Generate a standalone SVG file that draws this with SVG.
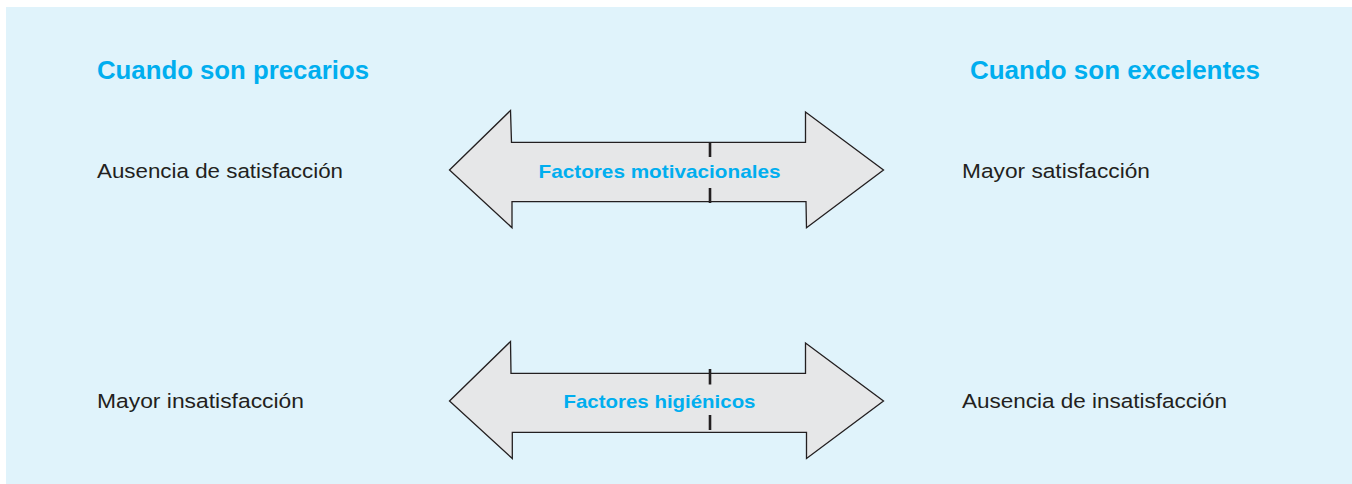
<svg xmlns="http://www.w3.org/2000/svg" width="1352" height="484" viewBox="0 0 1352 484">
<style>
.bg{fill:#e0f3fb}
.arrow{fill:#e6e7e8;stroke:#231f20;stroke-width:1.3;stroke-linejoin:miter}
.tick{stroke:#231f20;stroke-width:2.6;fill:none}
.head{font-family:"Liberation Sans",Arial,sans-serif;font-weight:bold;font-size:25px;fill:#00aeef}
.lbl{font-family:"Liberation Sans",Arial,sans-serif;font-weight:bold;font-size:19px;fill:#00aeef}
.txt{font-family:"Liberation Sans",Arial,sans-serif;font-size:20.5px;fill:#231f20}
</style>
<rect class="bg" x="6" y="7" width="1346" height="477"/>
<g id="headers">
<text class="head" x="97" y="78.5" textLength="272" lengthAdjust="spacingAndGlyphs">Cuando son precarios</text>
<text class="head" x="970" y="78.5" textLength="290" lengthAdjust="spacingAndGlyphs">Cuando son excelentes</text>
</g>
<g id="arrow-motivacionales">
<polygon class="arrow" points="449.5,170 510.5,110.5 511.5,142.3 805.5,142.3 805.5,112 883.5,170 806.5,227.7 806,201.7 512,201.7 512,227.7"/>
<line class="tick" x1="710" y1="142" x2="710" y2="157"/>
<line class="tick" x1="710" y1="188" x2="710" y2="203"/>
<text class="lbl" x="538.5" y="177.5" textLength="242" lengthAdjust="spacingAndGlyphs">Factores motivacionales</text>
</g>
<g id="arrow-higienicos">
<polygon class="arrow" points="449.5,401 510.5,341.5 511,373.3 805.5,373.3 805.5,343 883.5,401 806.5,458.5 806.5,432.3 512.3,432.3 512.3,458.5"/>
<line class="tick" x1="710" y1="369" x2="710" y2="384.5"/>
<line class="tick" x1="710" y1="415" x2="710" y2="430"/>
<text class="lbl" x="563.5" y="407.5" textLength="192" lengthAdjust="spacingAndGlyphs">Factores higiénicos</text>
</g>
<g id="left-texts">
<text class="txt" x="97" y="177.7" textLength="246" lengthAdjust="spacingAndGlyphs">Ausencia de satisfacción</text>
<text class="txt" x="97" y="407.7" textLength="207" lengthAdjust="spacingAndGlyphs">Mayor insatisfacción</text>
</g>
<g id="right-texts">
<text class="txt" x="962" y="177.7" textLength="188" lengthAdjust="spacingAndGlyphs">Mayor satisfacción</text>
<text class="txt" x="962" y="407.7" textLength="265" lengthAdjust="spacingAndGlyphs">Ausencia de insatisfacción</text>
</g>
<g id="connectors"></g>
</svg>
